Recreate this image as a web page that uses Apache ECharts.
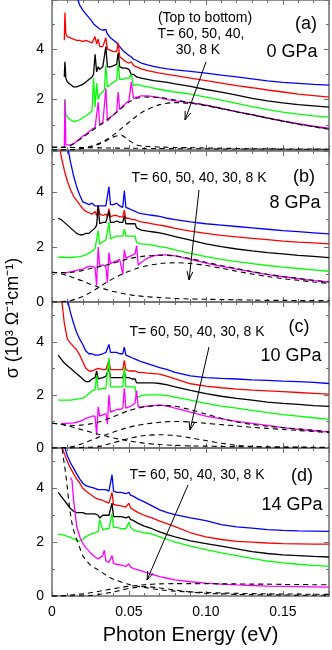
<!DOCTYPE html>
<html>
<head>
<meta charset="utf-8">
<script src="https://cdn.jsdelivr.net/npm/echarts@6/dist/echarts.min.js"></script>
<style>
  html, body { margin: 0; padding: 0; background: #fff; }
  #chart { width: 332px; height: 650px; }
</style>
</head>
<body>
<div id="chart"></div>
<script>
// photon energies (eV) of the measured spectra, panel (a)
const eA = [0.008, 0.0084, 0.009, 0.010, 0.012, 0.014, 0.016, 0.018, 0.020, 0.022,
            0.024, 0.026, 0.027, 0.028, 0.029, 0.030, 0.031, 0.033, 0.034, 0.035,
            0.036, 0.038, 0.040, 0.042, 0.043, 0.044, 0.046, 0.048, 0.050, 0.0515,
            0.053, 0.055, 0.058, 0.062, 0.066, 0.070, 0.075, 0.080, 0.090, 0.100,
            0.110, 0.120, 0.130, 0.140, 0.150, 0.160, 0.170, 0.180];
// panels (b) and (c)
const eBC = [0.004, 0.006, 0.008, 0.010, 0.012, 0.014, 0.016, 0.018, 0.020, 0.022,
             0.024, 0.026, 0.028, 0.029, 0.030, 0.031, 0.033, 0.035, 0.036, 0.037,
             0.038, 0.040, 0.042, 0.044, 0.046, 0.047, 0.048, 0.050, 0.052, 0.054,
             0.055, 0.056, 0.058, 0.062, 0.066, 0.070, 0.075, 0.080, 0.090, 0.100,
             0.110, 0.120, 0.130, 0.140, 0.150, 0.160, 0.170, 0.180];
// panel (d)
const eD = [0.004, 0.006, 0.008, 0.010, 0.012, 0.013, 0.014, 0.015, 0.016, 0.018,
            0.020, 0.022, 0.025, 0.028, 0.030, 0.031, 0.033, 0.034, 0.035, 0.037,
            0.038, 0.039, 0.040, 0.042, 0.045, 0.048, 0.049, 0.050, 0.051, 0.053,
            0.056, 0.060, 0.065, 0.070, 0.075, 0.080, 0.090, 0.100, 0.110, 0.120,
            0.130, 0.140, 0.150, 0.160, 0.170, 0.180];
// energies of the fit components
const fE = [0, 0.005, 0.01, 0.015, 0.02, 0.025, 0.03, 0.035, 0.04, 0.045, 0.05, 0.055, 0.06,
            0.07, 0.08, 0.09, 0.1, 0.11, 0.12, 0.13, 0.14, 0.15, 0.16, 0.17, 0.18];
const drudeDE = [0.006, 0.007, 0.008, 0.009, 0.010, 0.011, 0.012, 0.013, 0.014, 0.016, 0.018,
                 0.020, 0.025, 0.030, 0.035, 0.040, 0.050, 0.060, 0.070, 0.080, 0.100,
                 0.120, 0.140, 0.160, 0.180];

// sigma (10^3 /Ohm cm), 0 GPa : 60, 50, 40, 30, 8 K
const blueA = [null, null, null, null, null, null, 6.1, 5.75, 5.55, 5.4,
  5.25, 5.1, 5.0, 4.95, 4.9, 4.85, 4.8, 4.75, 4.7, 4.78,
  4.6, 4.45, 4.35, 4.25, 4.22, 4.1, 3.95, 3.85, 3.75, 3.7,
  3.6, 3.55, 3.45, 3.38, 3.32, 3.27, 3.22, 3.18, 3.12, 3.05,
  2.97, 2.9, 2.82, 2.74, 2.68, 2.64, 2.6, 2.57];
const redA = [4.35, 5.45, 4.6, 4.5, 4.45, 4.4, 4.35, 4.35, 4.3, 4.35,
  4.3, 4.25, 4.3, 4.5, 4.2, 4.4, 4.1, 4.1, 4.05, 4.45,
  4.0, 3.95, 3.9, 3.9, 4.25, 3.7, 3.6, 3.5, 3.45, 3.5,
  3.35, 3.3, 3.22, 3.15, 3.1, 3.05, 3.0, 2.95, 2.85, 2.75,
  2.65, 2.55, 2.47, 2.38, 2.3, 2.22, 2.16, 2.1];
const blackA = [2.9, 3.5, 2.85, 2.7, 2.6, 2.5, 2.5, 2.55, 2.6, 2.7,
  2.8, 2.9, 3.0, 3.8, 3.1, 3.3, 3.2, 3.3, 3.3, 4.1,
  3.3, 3.3, 3.35, 3.4, 3.85, 3.3, 3.25, 3.25, 3.2, 3.0,
  3.0, 2.9, 2.85, 2.8, 2.75, 2.72, 2.68, 2.62, 2.52, 2.4,
  2.3, 2.18, 2.05, 1.95, 1.87, 1.8, 1.75, 1.7];
const greenA = [1.35, 2.0, 1.4, 1.3, 1.2, 1.13, 1.15, 1.2, 1.28, 1.35,
  1.45, 1.55, 2.85, 1.7, 2.65, 2.0, 2.2, 2.3, 2.4, 3.35,
  2.5, 2.6, 2.7, 2.75, 3.45, 2.8, 2.8, 2.85, 2.85, 3.0,
  2.55, 2.6, 2.55, 2.5, 2.45, 2.4, 2.35, 2.3, 2.22, 2.1,
  1.98, 1.85, 1.72, 1.6, 1.5, 1.42, 1.35, 1.3];
const magentaA = [0.1, 2.0, 0.2, 0.15, 0.2, 0.25, 0.35, 0.45, 0.55, 0.62,
  0.72, 0.82, 0.85, 0.9, 0.95, 1.9, 1.0, 1.05, 1.1, 2.45,
  1.15, 1.3, 1.4, 1.5, 2.3, 1.6, 1.75, 1.85, 1.95, 2.7,
  2.05, 2.1, 2.15, 2.15, 2.12, 2.08, 2.0, 1.95, 1.88, 1.78,
  1.65, 1.52, 1.4, 1.27, 1.15, 1.05, 0.95, 0.87];
const totalA = [0.1, 0.1, 0.12, 0.28, 0.5, 0.72, 0.95, 1.17, 1.4, 1.65, 1.9, 2.05, 2.1,
  2.08, 1.98, 1.88, 1.78, 1.65, 1.52, 1.4, 1.27, 1.15, 1.03, 0.93, 0.83];
const lorA = [0, 0, 0.01, 0.03, 0.07, 0.14, 0.25, 0.4, 0.6, 0.85, 1.1, 1.35, 1.55,
  1.8, 1.88, 1.85, 1.76, 1.64, 1.51, 1.39, 1.26, 1.14, 1.02, 0.92, 0.82];
const peakA = [0, 0, 0, 0.02, 0.06, 0.12, 0.22, 0.36, 0.52, 0.58, 0.38, 0.2, 0.15,
  0.12, 0.1, 0.09, 0.08, 0.07, 0.06, 0.05, 0.05, 0.04, 0.04, 0.04, 0.03];
const drudeA = [0.12, 0.12, 0.11, 0.1, 0.1, 0.09, 0.09, 0.08, 0.08, 0.07, 0.07, 0.07, 0.06,
  0.06, 0.05, 0.05, 0.05, 0.04, 0.04, 0.04, 0.04, 0.03, 0.03, 0.03, 0.03];

// 8 GPa
const blueB = [null, null, null, 5.7, 5.1, 4.6, 4.2, 3.9, 3.65, 3.6,
  3.55, 3.6, 3.5, 3.55, 3.5, 3.45, 3.5, 3.5, 3.55, 4.2,
  3.55, 3.55, 3.6, 3.5, 3.45, 4.05, 3.45, 3.4, 3.35, 3.3,
  3.3, 3.25, 3.22, 3.18, 3.15, 3.12, 3.05, 3.0, 2.92, 2.85,
  2.8, 2.75, 2.7, 2.65, 2.6, 2.56, 2.52, 2.48];
const redB = [6.0, 5.3, 4.8, 4.4, 4.1, 3.85, 3.7, 3.55, 3.4, 3.3,
  3.25, 3.2, 3.3, 3.15, 3.5, 3.2, 3.15, 3.2, 3.1, 3.4,
  3.1, 3.15, 3.15, 3.1, 3.1, 3.35, 3.05, 3.05, 3.0, 3.0,
  3.05, 2.95, 2.92, 2.88, 2.84, 2.8, 2.75, 2.68, 2.58, 2.5,
  2.43, 2.37, 2.32, 2.27, 2.22, 2.18, 2.15, 2.12];
const blackB = [3.05, 3.0, 2.9, 2.8, 2.7, 2.6, 2.5, 2.45, 2.45, 2.5,
  2.5, 2.6, 2.7, 2.8, 3.5, 2.85, 2.9, 2.9, 2.85, 3.3,
  2.9, 2.9, 2.95, 2.9, 2.9, 3.15, 2.85, 2.85, 2.85, 2.85,
  2.7, 2.65, 2.62, 2.58, 2.55, 2.52, 2.45, 2.38, 2.25, 2.12,
  2.02, 1.93, 1.86, 1.8, 1.75, 1.7, 1.66, 1.62];
const greenB = [1.63, 1.63, 1.63, 1.62, 1.62, 1.63, 1.64, 1.65, 1.68, 1.72,
  1.78, 1.85, 1.95, 2.0, 2.6, 2.1, 2.2, 2.25, 2.3, 2.9,
  2.3, 2.35, 2.4, 2.4, 2.4, 2.65, 2.4, 2.4, 2.4, 2.4,
  2.15, 2.15, 2.12, 2.1, 2.06, 2.02, 1.97, 1.9, 1.77, 1.65,
  1.55, 1.47, 1.4, 1.33, 1.27, 1.22, 1.17, 1.12];
const magentaB = [null, null, 1.05, 1.08, 1.1, 1.12, 1.15, 1.18, 1.2, 1.25,
  1.3, 1.3, 1.25, 0.6, 2.0, 1.3, 1.35, 1.3, 0.7, 1.8,
  1.4, 1.45, 1.5, 1.55, 1.0, 1.9, 1.6, 1.65, 1.7, 1.75,
  2.05, 1.35, 1.45, 1.6, 1.68, 1.72, 1.72, 1.68, 1.55, 1.42,
  1.3, 1.2, 1.1, 1.0, 0.92, 0.85, 0.78, 0.73];
const totalB = [1.08, 1.07, 1.07, 1.1, 1.15, 1.22, 1.28, 1.34, 1.42, 1.5, 1.58, 1.63, 1.67,
  1.7, 1.68, 1.58, 1.45, 1.33, 1.22, 1.11, 1.01, 0.93, 0.86, 0.79, 0.73];
const lorB = [0, 0, 0.03, 0.1, 0.2, 0.35, 0.52, 0.7, 0.86, 1.0, 1.12, 1.22, 1.3,
  1.4, 1.43, 1.4, 1.33, 1.23, 1.12, 1.02, 0.93, 0.85, 0.79, 0.73, 0.68];
const drudeB = [1.08, 1.04, 0.96, 0.86, 0.76, 0.65, 0.55, 0.46, 0.38, 0.32, 0.27, 0.23, 0.2,
  0.16, 0.13, 0.11, 0.1, 0.09, 0.08, 0.07, 0.06, 0.06, 0.05, 0.05, 0.05];

// 10 GPa
const blueC = [null, null, null, 5.6, 5.1, 4.7, 4.35, 4.1, 3.9, 3.65,
  3.55, 3.55, 3.5, 3.55, 3.5, 3.5, 3.55, 3.6, 3.6, 3.9,
  3.6, 3.6, 3.6, 3.55, 3.55, 3.8, 3.5, 3.45, 3.4, 3.35,
  3.32, 3.3, 3.25, 3.18, 3.1, 3.03, 2.95, 2.85, 2.72, 2.65,
  2.62, 2.6, 2.57, 2.55, 2.52, 2.5, 2.47, 2.43];
const redC = [null, 5.75, 4.7, 4.1, 3.95, 3.82, 3.7, 3.5, 3.25, 3.0,
  2.9, 2.9, 2.95, 2.95, 3.0, 2.95, 2.95, 2.95, 2.95, 3.3,
  2.95, 2.95, 2.95, 2.95, 2.95, 3.3, 2.95, 2.9, 2.9, 2.9,
  2.88, 2.85, 2.85, 2.82, 2.8, 2.78, 2.7, 2.6, 2.42, 2.33,
  2.27, 2.22, 2.18, 2.15, 2.12, 2.09, 2.06, 2.03];
const blackC = [3.5, 3.35, 3.2, 3.1, 3.0, 2.9, 2.8, 2.7, 2.6, 2.5,
  2.5, 2.6, 2.65, 2.9, 2.6, 2.65, 2.65, 2.7, 2.65, 3.0,
  2.65, 2.65, 2.65, 2.65, 2.65, 2.85, 2.65, 2.65, 2.6, 2.6,
  2.45, 2.45, 2.45, 2.45, 2.45, 2.43, 2.38, 2.3, 2.17, 2.05,
  1.95, 1.87, 1.8, 1.73, 1.68, 1.64, 1.6, 1.57];
const greenC = [1.8, 1.8, 1.8, 1.8, 1.8, 1.82, 1.84, 1.86, 1.88, 1.95,
  2.05, 2.15, 2.2, 2.75, 2.2, 2.25, 2.25, 2.25, 2.3, 3.4,
  2.3, 2.3, 2.3, 2.3, 2.3, 3.05, 2.3, 2.3, 2.3, 2.3,
  1.9, 1.95, 1.97, 2.0, 2.0, 2.0, 1.97, 1.92, 1.8, 1.68,
  1.58, 1.5, 1.42, 1.33, 1.26, 1.2, 1.14, 1.08];
const magentaC = [null, 0.93, 0.93, 0.93, 0.94, 0.95, 0.97, 1.0, 1.05, 1.12,
  1.15, 1.2, 1.2, 0.5, 1.55, 1.2, 1.25, 1.3, 0.9, 2.0,
  1.35, 1.4, 1.45, 1.45, 1.5, 2.25, 1.5, 1.55, 1.6, 1.7,
  2.15, 1.55, 1.55, 1.58, 1.6, 1.62, 1.58, 1.5, 1.35, 1.2,
  1.1, 1.0, 0.93, 0.85, 0.77, 0.7, 0.65, 0.6];
const totalC = [0.93, 0.9, 0.86, 0.85, 0.87, 0.91, 0.97, 1.07, 1.18, 1.3, 1.41, 1.49, 1.55,
  1.6, 1.57, 1.44, 1.28, 1.12, 0.98, 0.89, 0.82, 0.77, 0.72, 0.67, 0.62];
const lor1C = [0, 0, 0.02, 0.08, 0.17, 0.28, 0.4, 0.5, 0.6, 0.7, 0.78, 0.85, 0.9,
  0.97, 1.0, 0.98, 0.93, 0.88, 0.83, 0.78, 0.74, 0.7, 0.66, 0.62, 0.58];
const lor2C = [0, 0, 0, 0.01, 0.02, 0.03, 0.05, 0.12, 0.2, 0.28, 0.36, 0.42, 0.47,
  0.5, 0.47, 0.38, 0.28, 0.18, 0.1, 0.06, 0.04, 0.03, 0.02, 0.02, 0.01];
const drudeC = [0.93, 0.9, 0.84, 0.76, 0.68, 0.6, 0.52, 0.45, 0.38, 0.32, 0.27, 0.22, 0.18,
  0.13, 0.1, 0.08, 0.07, 0.06, 0.05, 0.05, 0.04, 0.04, 0.04, 0.03, 0.03];

// 14 GPa
const blueD = [null, null, 5.6, 5.2, 4.95, 4.85, 4.75, 4.65, 4.55, 4.35,
  4.2, 4.1, 4.05, 4.0, 3.95, 3.95, 3.95, 3.95, 3.95, 3.9,
  3.9, 4.5, 3.9, 3.85, 3.85, 3.8, 3.8, 3.85, 3.75, 3.7,
  3.6, 3.5, 3.35, 3.2, 3.1, 3.02, 2.9, 2.8, 2.65, 2.57,
  2.52, 2.47, 2.44, 2.42, 2.41, 2.4];
const redD = [null, 5.6, 5.3, 5.0, 4.75, 4.65, 4.55, 4.45, 4.35, 4.2,
  4.0, 3.9, 3.77, 3.65, 3.6, 3.58, 3.55, 3.55, 3.5, 3.45,
  3.45, 3.85, 3.4, 3.38, 3.35, 3.3, 3.3, 3.45, 3.28, 3.2,
  3.1, 3.0, 2.9, 2.78, 2.68, 2.58, 2.35, 2.2, 2.1, 2.03,
  2.0, 1.97, 1.95, 1.94, 1.93, 1.93];
const blackD = [3.85, 3.7, 3.55, 3.4, 3.25, 3.2, 3.15, 3.12, 3.1, 3.1,
  3.1, 3.05, 3.05, 3.05, 3.0, 2.9, 3.0, 3.0, 3.0, 3.0,
  3.0, 3.45, 2.95, 2.95, 2.95, 2.9, 2.85, 2.95, 2.85, 2.8,
  2.7, 2.6, 2.5, 2.38, 2.28, 2.2, 2.05, 1.95, 1.85, 1.75,
  1.65, 1.58, 1.53, 1.5, 1.47, 1.45];
const greenD = [2.3, 2.28, 2.25, 2.22, 2.18, 2.15, 2.12, 2.1, 2.08, 2.05,
  2.1, 2.2, 2.3, 2.35, 2.4, 2.85, 2.45, 2.5, 2.5, 2.5,
  2.5, 3.05, 2.55, 2.55, 2.5, 2.5, 2.55, 2.75, 2.55, 2.45,
  2.4, 2.35, 2.3, 2.2, 2.1, 2.0, 1.85, 1.72, 1.6, 1.5,
  1.4, 1.3, 1.23, 1.18, 1.14, 1.1];
const magentaD = [null, null, null, null, 4.4, 4.3, 3.6, 3.1, 2.6, 2.2,
  1.95, 1.8, 1.6, 1.45, 1.38, 1.35, 1.5, 1.7, 1.3, 1.25,
  1.25, 1.5, 1.2, 1.18, 1.15, 1.1, 1.1, 1.2, 1.07, 1.02,
  0.97, 0.9, 0.8, 0.72, 0.66, 0.6, 0.53, 0.48, 0.44, 0.41,
  0.39, 0.37, 0.36, 0.35, 0.34, 0.33];
const drudeD = [5.8, 5.3, 4.9, 4.5, 4.0, 3.5, 3.05, 2.7, 2.45, 2.1, 1.8,
  1.5, 1.15, 0.97, 0.78, 0.62, 0.43, 0.32, 0.23, 0.18, 0.13, 0.1, 0.08, 0.07, 0.06];
const lor1D = [0, 0, 0.02, 0.05, 0.08, 0.12, 0.17, 0.22, 0.27, 0.32, 0.36, 0.39, 0.42,
  0.45, 0.46, 0.46, 0.46, 0.45, 0.45, 0.44, 0.44, 0.43, 0.43, 0.42, 0.42];
const lor2D = [0, 0, 0, 0, 0, 0.02, 0.05, 0.1, 0.15, 0.22, 0.28, 0.32, 0.35,
  0.3, 0.22, 0.15, 0.1, 0.08, 0.06, 0.05, 0.04, 0.04, 0.03, 0.03, 0.03];

const curveColors = ['#0000ff', '#ff0000', '#000000', '#00ff00', '#ff00ff'];
const FONT = 'Liberation Sans, Arial, sans-serif';
const AX = '#6e6e6e';

const panels = [
  { top: 0, height: 150, max: 5.95, e: eA, curves: [blueA, redA, blackA, greenA, magentaA],
    fits: [[fE, totalA], [fE, lorA], [fE, peakA], [fE, drudeA]] },
  { top: 151, height: 151, max: 5.5, e: eBC, curves: [blueB, redB, blackB, greenB, magentaB],
    fits: [[fE, totalB], [fE, lorB], [fE, drudeB]] },
  { top: 302, height: 146, max: 5.5, e: eBC, curves: [blueC, redC, blackC, greenC, magentaC],
    fits: [[fE, totalC], [fE, lor1C], [fE, lor2C], [fE, drudeC]] },
  { top: 448, height: 148, max: 5.5, e: eD, curves: [blueD, redD, blackD, greenD, magentaD],
    fits: [[drudeDE, drudeD], [fE, lor1D], [fE, lor2D]] }
];

function pairs(xs, ys) {
  return xs.map((x, i) => [x, ys[i]]);
}

function xAx(i, pos, labels) {
  return {
    gridIndex: i, type: 'value', position: pos, min: 0, max: 0.18, interval: 0.05,
    axisLine: { show: true, onZero: false, lineStyle: { color: AX, width: 1.5 } },
    axisTick: { show: true, inside: true, length: 5, lineStyle: { color: AX } },
    minorTick: { show: true, splitNumber: 5, length: 3, lineStyle: { color: AX } },
    splitLine: { show: false },
    axisLabel: {
      show: labels, color: '#000', fontSize: 14, fontFamily: FONT, margin: 9,
      formatter: v => {
        if (v === 0) return '0';
        const k = v / 0.05;
        return Math.abs(k - Math.round(k)) < 1e-6 ? v.toFixed(2) : '';
      }
    },
    name: labels ? 'Photon Energy (eV)' : '',
    nameLocation: 'middle', nameGap: 29,
    nameTextStyle: { color: '#000', fontSize: 20, fontFamily: FONT }
  };
}

function yAx(i, pos, max, labels) {
  return {
    gridIndex: i, type: 'value', position: pos, min: 0, max: max, interval: 2,
    axisLine: { show: true, onZero: false, lineStyle: { color: AX, width: 1.5 } },
    axisTick: { show: true, inside: true, length: 5, lineStyle: { color: AX } },
    minorTick: { show: true, splitNumber: 2, length: 3, lineStyle: { color: AX } },
    splitLine: { show: false },
    axisLabel: {
      show: labels, color: '#000', fontSize: 14, fontFamily: FONT, margin: 8,
      formatter: v => (v % 2 === 0 ? String(v) : '')
    }
  };
}

const grid = [], xAxis = [], yAxis = [], series = [];
panels.forEach((p, i) => {
  grid.push({ left: 52, right: 3, top: p.top, height: p.height, outerBoundsMode: 'none' });
  xAxis.push(xAx(i, 'bottom', i === panels.length - 1));
  xAxis.push(xAx(i, 'top', false));
  yAxis.push(yAx(i, 'left', p.max, true));
  yAxis.push(yAx(i, 'right', p.max, false));
  p.curves.forEach((ys, k) => {
    series.push({
      type: 'line', xAxisIndex: 2 * i, yAxisIndex: 2 * i, data: pairs(p.e, ys),
      symbol: 'none', z: 2, lineStyle: { color: curveColors[k], width: 1.3 }
    });
  });
  p.fits.forEach(f => {
    series.push({
      type: 'line', xAxisIndex: 2 * i, yAxisIndex: 2 * i, data: pairs(f[0], f[1]),
      symbol: 'none', smooth: 0.3, z: 3,
      lineStyle: { color: '#000', width: 1.1, type: [5, 4] }
    });
  });
});

function txt(x, y, text, size) {
  return {
    type: 'text', x: x, y: y, z: 10,
    style: { text: text, fill: '#000', fontSize: size, fontFamily: FONT,
             align: 'center', verticalAlign: 'middle' }
  };
}

function arrow(x1, y1, x2, y2) {
  const a = Math.atan2(y2 - y1, x2 - x1), L = 9, w = 0.33;
  return [
    { type: 'line', z: 10, shape: { x1: x1, y1: y1, x2: x2, y2: y2 },
      style: { stroke: '#000', lineWidth: 1 } },
    { type: 'polyline', z: 10,
      shape: { points: [[x2 - L * Math.cos(a - w), y2 - L * Math.sin(a - w)], [x2, y2],
                        [x2 - L * Math.cos(a + w), y2 - L * Math.sin(a + w)]] },
      style: { stroke: '#000', lineWidth: 1, fill: 'none' } }
  ];
}

const graphics = [
  txt(205, 18, '(Top to bottom)', 14),
  txt(201, 34, 'T= 60, 50, 40,', 14),
  txt(198, 50, '30, 8 K', 14),
  txt(306, 24, '(a)', 18),
  txt(292, 52, '0 GPa', 18),
  txt(199, 178, 'T= 60, 50, 40, 30, 8 K', 14),
  txt(304, 177, '(b)', 18),
  txt(295, 203, '8 GPa', 18),
  txt(197, 332, 'T= 60, 50, 40, 30, 8 K', 14),
  txt(299, 327, '(c)', 18),
  txt(291, 356, '10 GPa', 18),
  txt(197, 475, 'T= 60, 50, 40, 30, 8 K', 14),
  txt(302, 476, '(d)', 18),
  txt(292, 505, '14 GPa', 18),
  {
    type: 'text', x: 13, y: 318, rotation: Math.PI / 2, z: 10,
    style: { text: 'σ (10³ Ω⁻¹cm⁻¹)', fill: '#000', fontSize: 18, fontFamily: FONT,
             align: 'center', verticalAlign: 'middle' }
  }
].concat(arrow(206, 62, 185, 120), arrow(199, 190, 189, 280),
         arrow(209, 347, 190, 430), arrow(188, 485, 147, 580));

const chart = echarts.init(document.getElementById('chart'), null, { renderer: 'canvas' });
chart.setOption({
  animation: false,
  backgroundColor: '#fff',
  grid: grid,
  xAxis: xAxis,
  yAxis: yAxis,
  series: series,
  graphic: { elements: graphics }
});
</script>
</body>
</html>
